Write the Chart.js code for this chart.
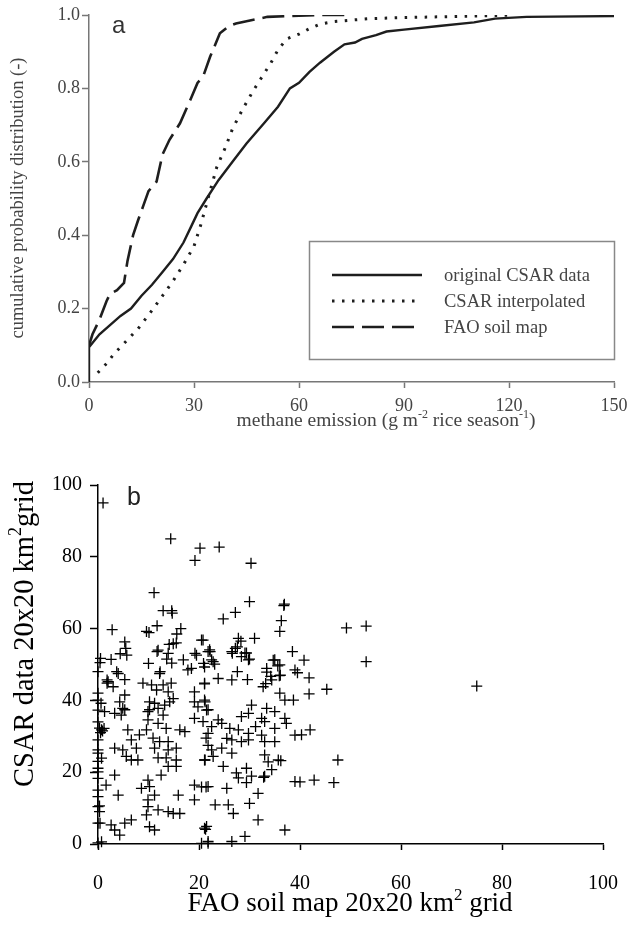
<!DOCTYPE html>
<html>
<head>
<meta charset="utf-8">
<script src="https://cdn.jsdelivr.net/npm/chart.js@4.4.0/dist/chart.umd.min.js"></script>
<style>
  html, body { margin: 0; padding: 0; background: #fff; }
  .box { position: absolute; left: 0; }
</style>
</head>
<body>
<div class="box" style="top:0"><canvas id="cdf" width="627" height="430"></canvas></div>
<div class="box" style="top:430px"><canvas id="scatter" width="627" height="499"></canvas></div>
<script>
// (a) cumulative probability distributions, [emission, probability]
const csarOriginal = [[0,0],[0,0.095],[3,0.13],[6,0.155],[9,0.18],[12,0.2],[15,0.235],[18,0.265],[21,0.3],
  [24,0.335],[27,0.38],[29,0.42],[31,0.46],[33.6,0.5],[37,0.55],[41,0.6],[45,0.65],[50,0.705],[54,0.75],
  [57.4,0.8],[60,0.815],[63,0.845],[66,0.87],[70,0.9],[73,0.92],[76,0.925],[78,0.935],[82,0.945],[85,0.955],
  [90,0.96],[100,0.97],[110,0.98],[116,0.99],[125,0.995],[150,0.997]];
const csarInterpolated = [[2.5,0.025],[5,0.05],[7,0.075],[10,0.105],[14,0.145],[18,0.195],[21,0.235],[24,0.275],
  [27,0.32],[30,0.37],[32,0.43],[34,0.5],[36.5,0.585],[39,0.64],[41,0.69],[44,0.745],[47,0.795],[50,0.84],
  [52,0.87],[54,0.905],[56.5,0.935],[60,0.948],[63,0.963],[66,0.975],[70,0.982],[80,0.99],[90,0.993],
  [100,0.995],[110,0.997],[121,1.0]];
const faoSoilMap = [[0,0.1],[1,0.13],[3,0.17],[5,0.22],[6,0.24],[8,0.25],[10,0.27],[11,0.33],[12.6,0.4],
  [14,0.44],[15.5,0.48],[17,0.52],[19.3,0.546],[21,0.62],[23,0.66],[26,0.705],[29,0.77],[31,0.815],
  [32.6,0.832],[34.6,0.886],[37.4,0.95],[40,0.97],[42,0.977],[46,0.985],[51,0.995],[60,0.998],[65,1.0],[75,1.0]];
const seriesNames = ['original CSAR data', 'CSAR interpolated', 'FAO soil map'];
const cdfXTicks = [0, 30, 60, 90, 120, 150];

// (b) grid cells, [FAO soil map, CSAR data]
const gridCells = [
  [1,95],[14.4,85],[20.2,82.4],[19.2,79],[24,82.7],[30.3,78.2],[11.1,70],[12.9,65],[14.6,65],[14.7,64.3],
  [9.6,59.2],[10.1,58.9],[11.7,60.8],[2.8,59.7],[16.4,60],[15.6,58.5],[30,67.5],[27.2,64.5],[24.8,62.7],
  [36.8,66.4],[36.9,66.8],[36.3,62.2],[36,59.2],[31,57.3],[20.5,56.8],[27.8,57.3],[5.3,56.3],[5.5,54.5],
  [4.4,53],[5.7,52.6],[0.5,51.7],[0.4,50.5],[0,48],[2.6,51.4],[3.7,48],[5.3,45.8],[1.8,45.7],[1.8,44.8],
  [11.9,54],[11.7,53.6],[13.9,53.1],[14.1,55.6],[14.9,55.8],[15.5,56],[13.6,51.5],[14.6,50.4],[10,50.3],
  [12.3,48],[16.9,51.3],[19.2,53.1],[19.5,52.6],[20.9,50.3],[18.5,48.9],[21.1,49.3],[21.8,53.6],[22.8,50.8],
  [23.1,50.1],[23.8,46.1],[21.1,44.8],[26.5,45.7],[26.6,53.1],[27.6,54.9],[28.3,56.5],[29.4,53.2],[30,51.5],
  [29.6,45.8],[27.6,48],[33.4,48.9],[33.4,47.9],[34.2,46.7],[34.7,51.2],[35.6,49.6],[38.5,53.6],[39.5,47.7],
  [40.8,51.2],[41.8,46.3],[33.2,44.7],[35.9,46.9],[49.2,60.2],[53.1,60.7],[53.1,50.8],[41.8,41.8],[45.3,43.1],
  [42,31.8],[40.3,30.4],[47.5,23.4],[42.8,17.8],[46.7,17.1],[40,17.3],[75,44],[27.2,54.5],[26.5,53.6],
  [29.1,53.2],[28.4,52.2],[22.2,53.6],[22.5,51.3],[36,49.9],[35,51.3],[22.1,54.1],[20.8,56.8],
  [17.8,48.5],[4,47.5],[12.2,47.5],[2,45.2],[3,43.8],[8.9,44.8],[10.6,44.3],[11.6,42.9],[12.9,44.3],
  [14.5,44.8],[13.9,42.4],[19.1,42.4],[21.1,44.6],[5.3,41.5],[0,42],[0,40.1],[0.6,39.2],[0,37.3],[1.3,36.9],
  [4.3,39.6],[4.9,37.8],[5.3,37.4],[4.6,35.9],[3.3,36.4],[10.2,39.6],[11.2,39.2],[11.9,37.8],[10.2,37.4],
  [9.9,36.9],[14.2,39.6],[14.9,40.5],[13.2,38.7],[9.9,34.6],[12.9,35.9],[19.1,39.6],[21.1,40.1],[19.8,38.2],
  [21.8,37.4],[19.1,35],[20.8,34.1],[0.7,31.8],[0.3,32.3],[0.9,31.5],[0.5,31],[1.2,32.2],[5.9,31.8],[6.6,29],
  [9.6,31.8],[10.9,29.5],[8.2,30.4],[11.9,33.6],[13.5,32.2],[16.2,31.8],[17.2,31.3],[12.2,28.5],[13.9,28.5],
  [0,29],[0,26.2],[0,25.3],[0.7,23.9],[3.3,26.7],[4.9,26.2],[7.6,26.7],[5.6,24.4],[6.6,23.4],[7.9,23.4],
  [11.2,26.7],[13.9,26.2],[15.5,26.7],[11.9,24],[13.5,24],[15.5,23.4],[15.5,21.6],[13.9,21.6],[21.1,23.4],
  [21.8,27.5],[21.4,29.5],[0,21.1],[0,20.1],[3.3,19.2],[1.6,16.4],[0,18.3],[12.5,19.2],[9.9,17.8],[8.6,15.5],
  [10.2,16],[11.2,13.6],[9.9,12.3],[4,13.6],[15.9,13.6],[19.1,12.3],[19.1,16.4],[20.5,15.9],[21.4,15.9],
  [0,13.2],[0,10.4],[0.3,10.6],[0.3,9],[9.9,10.4],[11.9,9.5],[13.9,9],[14.9,8.5],[16.2,8.5],[9.6,8.1],
  [0,5.8],[0.4,5.8],[6.6,6.7],[5.3,5.8],[2.6,5.3],[3.3,3.9],[4.3,2.5],[10.2,4.8],[11.2,3.9],[21.1,4.4],
  [21.3,4.1],[0.7,0.6],[20.5,0.2],[21.8,0.2],[0,0.3],[0,15],[0,23],[0,34],
  [29.8,51.3],[36.1,47],[39,48.5],[32.7,43.8],[34.4,45.7],[36,42],[37,40.1],[38.7,40.1],[30.4,38.7],
  [29.8,36.4],[28.4,35.5],[33.4,37.8],[35,36.9],[32.4,35],[33,34.1],[37,35],[37.3,33.6],[21.2,39.6],
  [21.5,37.3],[23.8,34.6],[24.5,33.6],[22.5,32.7],[21.8,30.8],[26.1,32.2],[27.8,31.8],[29.8,30.8],[31.2,32.7],
  [35,32.2],[32.4,30.3],[25.5,29.4],[26.5,29],[28.4,28.5],[29.8,29],[33,28.5],[35,28.5],[39,30.3],[22.5,26.2],
  [24.5,26.7],[26.5,25.3],[22.8,24.4],[21.2,23.4],[24.8,21.6],[33,24.8],[33.7,22.9],[35.7,23.4],[36.2,23.2],
  [29.4,21.1],[34.4,20.7],[27.4,19.8],[30.4,18.9],[27.8,18.4],[29.4,17.1],[33,18.9],[32.8,18.6],[39,17.4],
  [21.8,16],[25.5,15.5],[31.7,14.1],[30,11.3],[23.2,10.9],[25.8,10.9],[26.8,8.5],[31.7,6.7],[21.5,4.9],
  [37,3.9],[29.1,2.1],[21.8,0.7],[26.5,0.7]
];
const scatterTicks = [0, 20, 40, 60, 80, 100];

const SERIF = "'Liberation Serif', 'Times New Roman', serif";
const SANS = "'Liberation Sans', Arial, sans-serif";

// text with superscript pieces: parts = [[text, isSup], ...]
function drawRich(ctx, parts, size, color) {
  const supSize = Math.round(size * 0.62);
  let total = 0;
  parts.forEach(p => {
    ctx.font = (p[1] ? supSize : size) + 'px ' + SERIF;
    total += ctx.measureText(p[0]).width;
  });
  let x = -total / 2;
  ctx.fillStyle = color;
  ctx.textAlign = 'left';
  ctx.textBaseline = 'alphabetic';
  parts.forEach(p => {
    ctx.font = (p[1] ? supSize : size) + 'px ' + SERIF;
    ctx.fillText(p[0], x, p[1] ? -size * 0.42 : 0);
    x += ctx.measureText(p[0]).width;
  });
}

// keep the plot area where the axes are, whatever the label overflow
function fixBox(w, h) {
  return s => {
    if (w) s.width = w;
    if (h) s.height = h;
    s.paddingLeft = 0; s.paddingRight = 0; s.paddingTop = 0; s.paddingBottom = 0;
  };
}

const lineStyles = [
  { color: '#1e1e1e', width: 2.4, dash: [] },
  { color: '#1e1e1e', width: 3, dash: [2.5, 7.5] },
  { color: '#1e1e1e', width: 2.6, dash: [22, 8] }
];

const cdfDecor = {
  id: 'cdfDecor',
  afterDraw(chart) {
    const ctx = chart.ctx;
    ctx.save();
    ctx.translate(23, 198);
    ctx.rotate(-Math.PI / 2);
    drawRich(ctx, [['cumulative probability distribution (-)', false]], 18.5, '#444');
    ctx.restore();

    ctx.save();
    ctx.translate(386, 426);
    drawRich(ctx, [['methane emission (g m', false], ['-2', true], [' rice season', false], ['-1', true], [')', false]], 19.5, '#444');
    ctx.restore();

    ctx.save();
    ctx.font = '24px ' + SANS;
    ctx.fillStyle = '#333';
    ctx.textBaseline = 'alphabetic';
    ctx.fillText('a', 112, 33);
    ctx.restore();

    // legend
    ctx.save();
    ctx.strokeStyle = '#888';
    ctx.lineWidth = 1.5;
    ctx.strokeRect(309.5, 241.5, 305, 118);
    const rows = [275, 301, 327];
    const legendDash = [[], [2.5, 7.5], [22, 8]];
    seriesNames.forEach((name, i) => {
      ctx.beginPath();
      ctx.setLineDash(legendDash[i]);
      ctx.strokeStyle = lineStyles[i].color;
      ctx.lineWidth = lineStyles[i].width;
      ctx.moveTo(332, rows[i]);
      ctx.lineTo(422, rows[i]);
      ctx.stroke();
      ctx.setLineDash([]);
      ctx.font = '18.5px ' + SERIF;
      ctx.fillStyle = '#444';
      ctx.textBaseline = 'middle';
      ctx.textAlign = 'left';
      ctx.fillText(name, 444, rows[i] + 1);
    });
    ctx.restore();
  }
};

new Chart(document.getElementById('cdf'), {
  type: 'line',
  data: {
    datasets: [csarOriginal, csarInterpolated, faoSoilMap].map((s, i) => ({
      label: seriesNames[i],
      data: s.map(p => ({ x: p[0], y: p[1] })),
      borderColor: lineStyles[i].color,
      borderWidth: lineStyles[i].width,
      borderDash: lineStyles[i].dash,
      pointRadius: 0,
      tension: 0,
      fill: false
    }))
  },
  options: {
    responsive: false,
    animation: false,
    events: [],
    layout: { padding: { top: 15, right: 13, left: 0, bottom: 0 } },
    plugins: { legend: { display: false }, tooltip: { enabled: false } },
    scales: {
      x: {
        type: 'linear', min: 0, max: 150,
        afterBuildTicks: s => { s.ticks = cdfXTicks.map(v => ({ value: v })); },
        afterFit: fixBox(0, 48),
        ticks: { font: { family: SERIF, size: 18 }, color: '#444', padding: 7, maxRotation: 0 },
        grid: { drawOnChartArea: false, tickLength: 6, color: '#777', tickWidth: 1.5 },
        border: { color: '#777', width: 1.5 }
      },
      y: {
        min: 0, max: 1,
        ticks: { stepSize: 0.2, callback: v => v.toFixed(1), font: { family: SERIF, size: 18 }, color: '#444', padding: 2 },
        afterFit: fixBox(89, 0),
        grid: { drawOnChartArea: false, tickLength: 7, color: '#777', tickWidth: 1.5 },
        border: { color: '#777', width: 1.5 }
      }
    }
  },
  plugins: [cdfDecor]
});

const scatterDecor = {
  id: 'scatterDecor',
  afterDraw(chart) {
    const ctx = chart.ctx;
    ctx.save();
    ctx.translate(33, 204);
    ctx.rotate(-Math.PI / 2);
    drawRich(ctx, [['CSAR data 20x20 km', false], ['2', true], ['grid', false]], 28.5, '#000');
    ctx.restore();

    ctx.save();
    ctx.translate(350, 481);
    drawRich(ctx, [['FAO soil map 20x20 km', false], ['2', true], [' grid', false]], 27, '#000');
    ctx.restore();

    ctx.save();
    ctx.font = '25px ' + SANS;
    ctx.fillStyle = '#222';
    ctx.textBaseline = 'alphabetic';
    ctx.fillText('b', 127, 75);
    ctx.restore();
  }
};

new Chart(document.getElementById('scatter'), {
  type: 'scatter',
  data: {
    datasets: [{
      data: gridCells.map(p => ({ x: p[0], y: p[1] })),
      pointStyle: 'cross',
      pointRadius: 5.5,
      borderColor: '#000',
      borderWidth: 1.3,
      clip: false
    }]
  },
  options: {
    responsive: false,
    animation: false,
    events: [],
    layout: { padding: { top: 55, right: 24, left: 0, bottom: 0 } },
    plugins: { legend: { display: false }, tooltip: { enabled: false } },
    scales: {
      x: {
        min: 0, max: 100,
        afterBuildTicks: s => { s.ticks = scatterTicks.map(v => ({ value: v })); },
        afterFit: fixBox(0, 85),
        ticks: { font: { family: SERIF, size: 20 }, color: '#000', padding: 22, maxRotation: 0 },
        grid: { drawOnChartArea: false, tickLength: 6, color: '#000', tickWidth: 1.5 },
        border: { color: '#000', width: 1.5 }
      },
      y: {
        min: 0, max: 100,
        afterBuildTicks: s => { s.ticks = scatterTicks.map(v => ({ value: v })); },
        afterFit: fixBox(98, 0),
        ticks: { font: { family: SERIF, size: 20 }, color: '#000', padding: 8 },
        grid: { drawOnChartArea: false, tickLength: 8, color: '#000', tickWidth: 1.5 },
        border: { color: '#000', width: 1.5 }
      }
    }
  },
  plugins: [scatterDecor]
});
</script>
</body>
</html>
